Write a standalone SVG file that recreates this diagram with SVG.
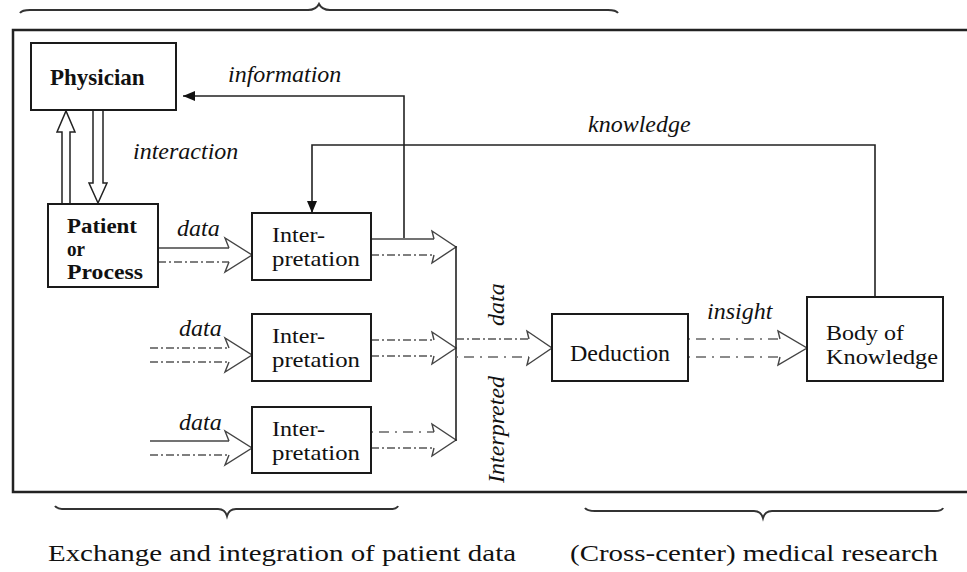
<svg xmlns="http://www.w3.org/2000/svg" width="967" height="572" viewBox="0 0 967 572">
<style>
.bx{fill:#fff;stroke:#1a1a1a;stroke-width:2}
.t{font-family:"Liberation Serif","Times New Roman",serif;font-size:24px;fill:#111}
.m{font-size:21px}
.b{font-weight:bold;font-size:23px}
.bm{font-weight:bold;font-size:20.5px}
.i{font-style:italic}
.ln{fill:none;stroke:#222;stroke-width:1.6}
.ar{fill:none;stroke:#444;stroke-width:1.4}
.dd{fill:none;stroke:#555;stroke-width:1.3;stroke-dasharray:8 3 2 3}
.dt{fill:none;stroke:#666;stroke-width:1.3;stroke-dasharray:2 6 10 6}
.hol{fill:#fff;stroke:#222;stroke-width:1.5}
.br{fill:none;stroke:#333;stroke-width:2}
</style>
<defs>
<marker id="fa" viewBox="0 0 12 10" refX="12" refY="5" markerWidth="12" markerHeight="10" markerUnits="userSpaceOnUse" orient="auto">
<path d="M0,0 L12,5 L0,10 Z" fill="#111"/>
</marker>
</defs>
<rect width="967" height="572" fill="#fff"/>

<!-- braces and frame -->
<path class="br" d="M20,13 Q22,10 30,10 L308,10 Q316,10 319,4 Q322,10 330,10 L608,10 Q616,10 618,13"/>
<path fill="none" stroke="#222" stroke-width="2.5" d="M967,30 H13 V492 H967"/>
<path class="br" d="M55,506 Q57,509 65,509 L218,509 Q225,509 227,516 Q229,509 236,509 L390,509 Q397,509 398,506"/>
<path class="br" d="M585,508 Q587,511 595,511 L754,511 Q761,511 763,518 Q765,511 772,511 L935,511 Q942,511 943,508"/>

<!-- connectors -->
<g id="connectors">
  <path class="ln" d="M404,238 V96 H183" marker-end="url(#fa)"/>
  <path class="ln" d="M875,297 V145 H312 V213" marker-end="url(#fa)"/>
  <path class="hol" d="M62,204 V132 H57 L66,111 L75,132 H70 V204"/>
  <path class="hol" d="M93,111 V183 H89 L98,203 L107,183 H103 V111"/>
  <line class="ar" x1="158" y1="248" x2="229" y2="248"/>
  <line class="dd" x1="158" y1="262" x2="229" y2="262"/>
  <path class="ar" d="M229,248 L225,238 L252,255 L225,272 L229,262"/>
  <line class="dd" x1="150" y1="348" x2="229" y2="348"/>
  <line class="dd" x1="150" y1="362" x2="229" y2="362"/>
  <path class="ar" d="M229,348 L225,338 L252,355 L225,372 L229,362"/>
  <line class="ar" x1="150" y1="441" x2="229" y2="441"/>
  <line class="dd" x1="150" y1="455" x2="229" y2="455"/>
  <path class="ar" d="M229,441 L225,431 L252,448 L225,465 L229,455"/>
  <line class="ar" x1="371" y1="239" x2="434" y2="239"/>
  <line class="dd" x1="371" y1="255" x2="434" y2="255"/>
  <path class="ar" d="M434,239 L432,231 L456,247 L432,263 L434,255"/>
  <line class="dd" x1="371" y1="340" x2="434" y2="340"/>
  <line class="dd" x1="371" y1="356" x2="434" y2="356"/>
  <path class="ar" d="M434,340 L432,332 L456,348 L432,364 L434,356"/>
  <line class="dt" x1="371" y1="432" x2="434" y2="432"/>
  <line class="dd" x1="371" y1="448" x2="434" y2="448"/>
  <path class="ar" d="M434,432 L432,424 L456,440 L432,456 L434,448"/>
  <line class="ln" x1="456" y1="246" x2="456" y2="441"/>
  <line class="dd" x1="456" y1="339" x2="529" y2="339"/>
  <line class="dt" x1="456" y1="357" x2="529" y2="357"/>
  <path class="ar" d="M529,339 L527,331 L552,348 L527,365 L529,357"/>
  <line class="dt" x1="688" y1="339" x2="780" y2="339"/>
  <line class="dt" x1="688" y1="357" x2="780" y2="357"/>
  <path class="ar" d="M780,339 L778,331 L807,348 L778,365 L780,357"/>
</g>

<!-- labels -->
<text class="t i" x="228" y="82">information</text>
<text class="t i" x="133" y="159">interaction</text>
<text class="t i" x="588" y="132">knowledge</text>
<text class="t i" x="177" y="236">data</text>
<text class="t i" x="179" y="336">data</text>
<text class="t i" x="179" y="430">data</text>
<text class="t i" x="707" y="319">insight</text>
<text class="t i" transform="translate(504,483) rotate(-90)">Interpreted</text>
<text class="t i" transform="translate(504,326) rotate(-90)">data</text>

<!-- nodes -->
<g id="physician">
  <rect class="bx" x="31" y="43" width="145" height="67"/>
  <text class="t b" x="50" y="85">Physician</text>
</g>
<g id="patient">
  <rect class="bx" x="48" y="204" width="110" height="83"/>
  <text class="t bm" x="67" y="233" textLength="70" lengthAdjust="spacingAndGlyphs">Patient</text>
  <text class="t bm" x="67" y="256" textLength="18" lengthAdjust="spacingAndGlyphs">or</text>
  <text class="t bm" x="67" y="279" textLength="76" lengthAdjust="spacingAndGlyphs">Process</text>
</g>
<g id="interp1">
  <rect class="bx" x="252" y="213" width="119" height="67"/>
  <text class="t m" x="272" y="242" textLength="53" lengthAdjust="spacingAndGlyphs">Inter-</text>
  <text class="t m" x="272" y="266" textLength="88" lengthAdjust="spacingAndGlyphs">pretation</text>
</g>
<g id="interp2">
  <rect class="bx" x="252" y="314" width="119" height="67"/>
  <text class="t m" x="272" y="343" textLength="53" lengthAdjust="spacingAndGlyphs">Inter-</text>
  <text class="t m" x="272" y="367" textLength="88" lengthAdjust="spacingAndGlyphs">pretation</text>
</g>
<g id="interp3">
  <rect class="bx" x="252" y="407" width="119" height="66"/>
  <text class="t m" x="272" y="436" textLength="53" lengthAdjust="spacingAndGlyphs">Inter-</text>
  <text class="t m" x="272" y="460" textLength="88" lengthAdjust="spacingAndGlyphs">pretation</text>
</g>
<g id="deduction">
  <rect class="bx" x="552" y="314" width="136" height="67"/>
  <text class="t" x="570" y="361">Deduction</text>
</g>
<g id="body">
  <rect class="bx" x="807" y="297" width="136" height="84"/>
  <text class="t m" x="826" y="340" textLength="78" lengthAdjust="spacingAndGlyphs">Body of</text>
  <text class="t m" x="826" y="364" textLength="112" lengthAdjust="spacingAndGlyphs">Knowledge</text>
</g>

<!-- captions -->
<text class="t" x="48" y="561" font-size="28" textLength="468" lengthAdjust="spacingAndGlyphs">Exchange and integration of patient data</text>
<text class="t" x="570" y="561" font-size="28" textLength="368" lengthAdjust="spacingAndGlyphs">(Cross-center) medical research</text>
</svg>
